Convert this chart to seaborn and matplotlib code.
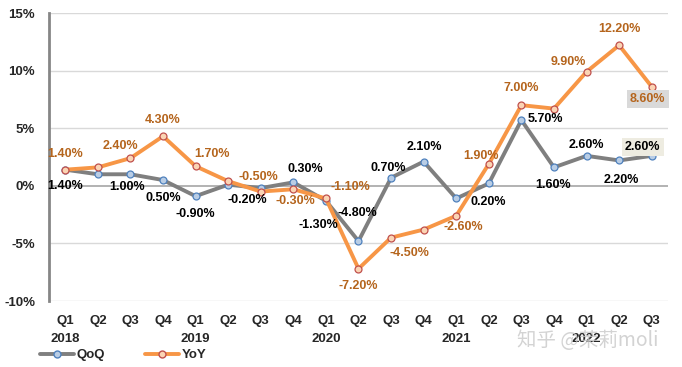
import matplotlib
matplotlib.use("Agg")
import matplotlib.pyplot as plt
import matplotlib.transforms as mtransforms
import seaborn as sns
import pandas as pd
import numpy as np
from matplotlib.lines import Line2D

quarters = ["Q1", "Q2", "Q3", "Q4", "Q1", "Q2", "Q3", "Q4", "Q1", "Q2", "Q3", "Q4",
            "Q1", "Q2", "Q3", "Q4", "Q1", "Q2", "Q3"]
years = ["2018", "", "", "", "2019", "", "", "", "2020", "", "", "",
         "2021", "", "", "", "2022", "", ""]
qoq = [1.4, 1.0, 1.0, 0.5, -0.9, 0.1, -0.2, 0.3, -1.3, -4.8, 0.7, 2.1,
       -1.1, 0.2, 5.7, 1.6, 2.6, 2.2, 2.6]
yoy = [1.4, 1.6, 2.4, 4.3, 1.7, 0.4, -0.5, -0.3, -1.1, -7.2, -4.5, -3.8,
       -2.6, 1.9, 7.0, 6.7, 9.9, 12.2, 8.6]
# which points carry a data label
qoq_labeled = [1, 0, 1, 1, 1, 0, 1, 1, 1, 1, 1, 1, 0, 1, 1, 1, 1, 1, 1]
yoy_labeled = [1, 0, 1, 1, 1, 0, 1, 1, 1, 1, 1, 0, 1, 1, 1, 0, 1, 1, 1]
yticks = [-10, -5, 0, 5, 10, 15]

# label offsets in pixels (dx, dy up)
qoq_off = [(0, -16), None, (-3, -13), (0, -18), (0, -18), None, (-13, -12), (12, 13),
           (-8, -24), (-1, 28), (-3, 10), (1, 15), None, (-1, -19), (24, 1), (-1, -18),
           (0, 11), (2, -20), (-9, 9)]
yoy_off = [(0, 16), None, (-10, 12), (0, 16), (16, 12), None, (-2, 15), (2, -12),
           (24, 11), (0, -17), (18, -15), None, (7, -11), (-8, 8), (0, 17), None,
           (-18, 10), (0, 16), (-4, -12)]

x = np.arange(len(qoq))
df = pd.DataFrame({"x": np.concatenate([x, x]),
                   "val": qoq + yoy,
                   "series": ["QoQ"] * len(qoq) + ["YoY"] * len(yoy)})

sns.set_style("white")
plt.rcParams["font.family"] = ["Liberation Sans", "DejaVu Sans"]
plt.rcParams["font.weight"] = "bold"

W, H = 682, 367
fig = plt.figure(figsize=(W / 100, H / 100), dpi=100)
ax = fig.add_axes([49 / W, 1 - 301 / H, (668 - 49) / W, (301 - 13) / H])

gray_line = "#7f7f7f"
orange_line = "#f79646"
yoy_text = "#b5651d"

sns.lineplot(data=df[df.series == "QoQ"], x="x", y="val", ax=ax, color=gray_line,
             linewidth=2.8, marker="o", markersize=5, markerfacecolor="#b9cde5",
             markeredgecolor="#4f81bd", markeredgewidth=0.9, zorder=3, legend=False)
sns.lineplot(data=df[df.series == "YoY"], x="x", y="val", ax=ax, color=orange_line,
             linewidth=2.8, marker="o", markersize=5, markerfacecolor="#fbd4b4",
             markeredgecolor="#c0504d", markeredgewidth=0.9, zorder=4, legend=False)

ax.set_xlim(-0.5, len(qoq) - 0.5)
ax.set_ylim(-10, 15)
ax.set_yticks(yticks)
ax.set_yticklabels([f"{v}%" for v in yticks], fontsize=9.5, fontweight="bold")
for v in yticks:
    ax.axhline(v, color="#a6a6a6" if v == 0 else "#d9d9d9",
               linewidth=1.2 if v == 0 else 1.0, zorder=1)
ax.set_xticks(x)
ax.set_xticklabels(quarters, fontsize=9.5, fontweight="bold")
ax.tick_params(axis="x", length=0, pad=10)
ax.tick_params(axis="y", length=0, pad=10)
ax.set_xlabel("")
ax.set_ylabel("")
trans = mtransforms.blended_transform_factory(ax.transData, ax.transAxes)
for i, yr in enumerate(years):
    if yr:
        ax.annotate(yr, (x[i], 0), xycoords=trans, xytext=(0, -38),
                    textcoords="offset pixels", ha="center", va="center",
                    fontsize=9.5, fontweight="bold", annotation_clip=False, zorder=5)
for s in ["top", "right", "bottom"]:
    ax.spines[s].set_visible(False)
ax.spines["left"].set_color("#868686")
ax.spines["left"].set_linewidth(2)

for i, v in enumerate(qoq):
    if qoq_labeled[i]:
        dx, dy = qoq_off[i]
        kw = {}
        if i == len(qoq) - 1:
            kw["bbox"] = dict(boxstyle="square,pad=0.25", fc="#eeece1", ec="none")
        ax.annotate(f"{v:.2f}%", (x[i], v), xytext=(dx, dy), textcoords="offset pixels",
                    ha="center", va="center", fontsize=9, fontweight="bold",
                    color="black", zorder=6, **kw)
for i, v in enumerate(yoy):
    if yoy_labeled[i]:
        dx, dy = yoy_off[i]
        kw = {}
        if i == len(yoy) - 1:
            kw["bbox"] = dict(boxstyle="square,pad=0.25", fc="#d9d9d9", ec="none")
        ax.annotate(f"{v:.2f}%", (x[i], v), xytext=(dx, dy), textcoords="offset pixels",
                    ha="center", va="center", fontsize=9, fontweight="bold",
                    color=yoy_text, zorder=6, **kw)

handles = [Line2D([], [], color=gray_line, linewidth=2.8, marker="o", markersize=5,
                  markerfacecolor="#b9cde5", markeredgecolor="#4f81bd"),
           Line2D([], [], color=orange_line, linewidth=2.8, marker="o", markersize=5,
                  markerfacecolor="#fbd4b4", markeredgecolor="#c0504d")]
fig.legend(handles, ["QoQ", "YoY"], loc="center left", bbox_to_anchor=(40 / W, 1 - 355 / H),
           ncol=2, frameon=False, fontsize=9.5, handlelength=2.6, handletextpad=0.2,
           columnspacing=3.0, borderaxespad=0, borderpad=0)

fig.text(588 / W, 1 - 340 / H, "知乎 @茉莉moli", fontsize=14, color="#c8c8c8",
         alpha=0.8, ha="center", va="center", fontweight="normal",
         family=["Noto Sans CJK SC", "DejaVu Sans"])

fig.savefig("out.png", dpi=100)
